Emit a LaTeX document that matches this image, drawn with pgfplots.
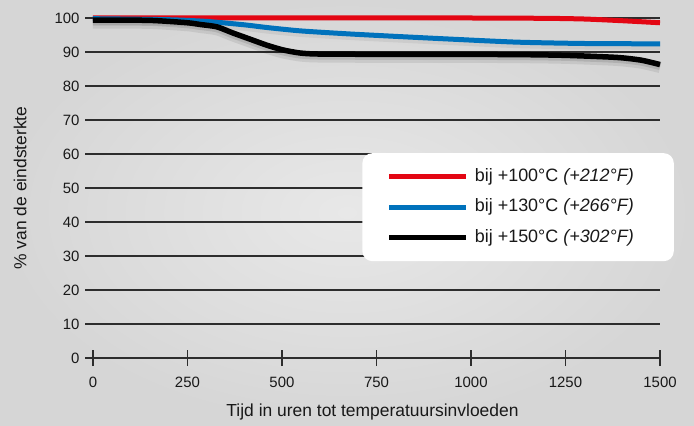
\documentclass[border=0pt]{standalone}
\usepackage{pgfplots}
\pgfplotsset{compat=1.18}
\usepackage{fontspec}
\setmainfont{Liberation Sans}
\definecolor{bgin}{RGB}{232,232,232}
\definecolor{bgout}{RGB}{214,214,214}
\definecolor{cred}{RGB}{227,6,19}
\definecolor{cblue}{RGB}{0,114,188}
\definecolor{cgrid}{RGB}{45,45,45}
\begin{document}
\begin{tikzpicture}[x=1bp,y=1bp]
\shade[inner color=bgin, outer color=bgout] (0,0) rectangle (694,425);
\begin{axis}[
  at={(85bp,67bp)}, anchor=south west,
  scale only axis, width=575bp, height=340bp,
  xmin=-21, xmax=1500, ymin=0, ymax=100,
  xtick={0,250,500,750,1000,1250,1500},
  ytick={0,10,...,100},
  axis line style={draw=none},
  ymajorgrids, major y grid style={draw=cgrid, line width=1.3bp},
  xtick pos=bottom, xtick align=center, major tick length=16bp,
  xtick style={cgrid, line width=1.3bp},
  ytick style={draw=none},
  tick label style={font=\fontsize{15}{18}\selectfont, text=black!90},
  /pgf/number format/assume math mode=true,
  /pgf/number format/1000 sep={},
  yticklabel style={anchor=east, xshift=-2bp},
  xticklabel style={anchor=north, yshift=-8bp},
  xlabel={Tijd in uren tot temperatuursinvloeden},
  ylabel={\% van de eindsterkte},
  label style={font=\fontsize{17.5}{20}\selectfont, text=black!90},
  xlabel style={at={(axis description cs:0.5,-0.1588)}, anchor=center},
  ylabel style={at={(axis description cs:-0.113,0.5)}, anchor=center, rotate=0},
  clip=false,
  legend cell align=left,
  legend image code/.code={\draw[#1] (0bp,0bp) -- (77bp,0bp);},
  legend style={at={(axis description cs:1.0243,0.603)}, anchor=north east,
    fill=white, draw=none, rounded corners=10bp,
    inner xsep=24bp, inner ysep=15bp,
    font=\fontsize{18}{20}\selectfont, text=black!90,
    nodes={inner sep=0bp, text height=13bp, text depth=4bp},
    row sep=13.5bp, column sep=6bp},
]
% soft shadows
\addplot[forget plot, black, opacity=0.08, line width=11bp, smooth, tension=0.4, yshift=-3bp] coordinates {
(0,99.4)(150,99.3)(250,98.6)(283,98.1)(328,97.4)(370,95.6)(415,93.8)(460,92.0)(503,90.6)(548,89.7)(600,89.4)(800,89.3)(1000,89.3)(1150,89.2)(1254,89.0)(1386,88.4)(1450,87.6)(1500,86.3)};
\addplot[forget plot, black, opacity=0.10, line width=7bp, smooth, tension=0.4, yshift=-2bp] coordinates {
(0,99.4)(150,99.3)(250,98.6)(283,98.1)(328,97.4)(370,95.6)(415,93.8)(460,92.0)(503,90.6)(548,89.7)(600,89.4)(800,89.3)(1000,89.3)(1150,89.2)(1254,89.0)(1386,88.4)(1450,87.6)(1500,86.3)};
\addplot[forget plot, black, opacity=0.06, line width=8bp, smooth, tension=0.4, yshift=-2bp] coordinates {
(0,99.8)(200,99.5)(300,99.0)(400,98.0)(460,97.2)(550,96.2)(680,95.3)(800,94.6)(944,93.8)(1121,92.9)(1300,92.5)(1500,92.4)};
% series
\addplot[cred, line width=5bp, smooth, tension=0.4] coordinates {
(0,100)(250,100)(500,100)(750,100)(1000,100)(1200,99.9)(1300,99.7)(1400,99.2)(1500,98.6)};
\addlegendentry{bij +100°C \textit{(+212°F)}\hspace*{16bp}}
\addplot[cblue, line width=5bp, smooth, tension=0.4] coordinates {
(0,99.8)(200,99.5)(300,99.0)(400,98.0)(460,97.2)(550,96.2)(680,95.3)(800,94.6)(944,93.8)(1121,92.9)(1300,92.5)(1500,92.4)};
\addlegendentry{bij +130°C \textit{(+266°F)}\hspace*{16bp}}
\addplot[black, line width=5.5bp, smooth, tension=0.4] coordinates {
(0,99.4)(150,99.3)(250,98.6)(283,98.1)(328,97.4)(370,95.6)(415,93.8)(460,92.0)(503,90.6)(548,89.7)(600,89.4)(800,89.3)(1000,89.3)(1150,89.2)(1254,89.0)(1386,88.4)(1450,87.6)(1500,86.3)};
\addlegendentry{bij +150°C \textit{(+302°F)}\hspace*{16bp}}
\end{axis}
\end{tikzpicture}
\end{document}
